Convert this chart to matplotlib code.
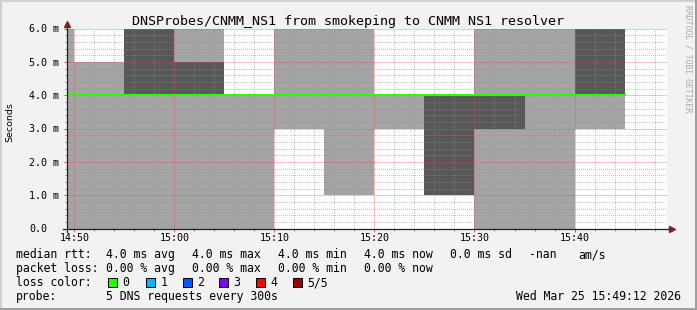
import matplotlib
matplotlib.use('Agg')
import matplotlib.pyplot as plt
from matplotlib.patches import Rectangle
from matplotlib.lines import Line2D

# ---- values ----
title = 'DNSProbes/CNMM_NS1 from smokeping to CNMM NS1 resolver'
step_times = ['14:45', '14:50', '14:55', '15:00', '15:05', '15:10',
              '15:15', '15:20', '15:25', '15:30', '15:35', '15:40']
# 5 sorted dns rtts per step (ms)
pings = [[0, 4, 4, 4, 6],
         [0, 4, 4, 4, 5],
         [0, 4, 4, 6, 6],
         [0, 4, 4, 5, 6],
         [0, 4, 4, 4, 4],
         [3, 4, 4, 4, 6],
         [1, 4, 4, 4, 6],
         [3, 4, 4, 4, 4],
         [1, 1, 4, 4, 4],
         [0, 3, 4, 4, 6],
         [0, 4, 4, 4, 6],
         [3, 4, 4, 6, 6]]
step_min = 5
view_start = '14:49:12'
view_end = '15:49:12'
x_ticks = ['14:50', '15:00', '15:10', '15:20', '15:30', '15:40']
y_ticks = [0, 1, 2, 3, 4, 5, 6]
y_labels = ['0.0', '1.0 m', '2.0 m', '3.0 m', '4.0 m', '5.0 m', '6.0 m']

rtt_stats = [('avg', 4.0), ('max', 4.0), ('min', 4.0), ('now', 4.0)]
rtt_sd = 0.0
loss_stats = [('avg', 0.00), ('max', 0.00), ('min', 0.00), ('now', 0.00)]
loss_names = ['0', '1', '2', '3', '4', '5/5']
loss_colors = ['#26ff00', '#00b8ff', '#0059ff', '#7e00ff', '#ff0000', '#a10000']
probe_text = '5 DNS requests every 300s'
stamp = 'Wed Mar 25 15:49:12 2026'

W, H = 697, 310
MONO = 'DejaVu Sans Mono'
FS = 8.3


def to_min(s):
    parts = [int(p) for p in s.split(':')]
    m = (parts[0] - 14) * 60 + parts[1]
    if len(parts) > 2:
        m += parts[2] / 60.0
    return m


def fx(x):
    return x / W


def fy(y):
    return 1 - y / H


def legend_text(x, y, s):
    fig.text(fx(x), fy(y), s, ha='left', va='baseline', fontfamily=MONO, fontsize=FS)


fig = plt.figure(figsize=(W / 100, H / 100), dpi=100, facecolor='#f2f2f2')
ax = fig.add_axes([fx(66.5), fy(228.5), 600 / W, 200 / H])
ax.set_facecolor('white')

starts = [to_min(t) for t in step_times]
lo = [p[0] for p in pings]
hi = [p[4] for p in pings]
lo2 = [p[1] for p in pings]
hi2 = [p[3] for p in pings]
med = [p[2] for p in pings]

# smoke: outer pair light, inner pair dark
ax.bar(starts, [h - l for h, l in zip(hi, lo)], bottom=lo, width=step_min,
       align='edge', color='#a4a4a4', linewidth=0, zorder=1)
ax.bar(starts, [h - l for h, l in zip(hi2, lo2)], bottom=lo2, width=step_min,
       align='edge', color='#585858', linewidth=0, zorder=1)
# median line
ax.step(starts + [starts[-1] + step_min], med + [med[-1]], where='post',
        color='#26ff00', lw=1.5, zorder=3)

ax.set_xlim(to_min(view_start), to_min(view_end))
ax.set_ylim(0, 6)
ax.set_xticks([to_min(t) for t in x_ticks])
ax.set_xticklabels(x_ticks, fontfamily=MONO, fontsize=7.2)
ax.set_xticks([m for m in range(50, 110, 2) if m % 10], minor=True)
ax.set_yticks(y_ticks)
ax.set_yticklabels(y_labels, fontfamily=MONO, fontsize=7.2)
ax.set_yticks([i / 5 for i in range(31) if i % 5], minor=True)
plt.setp(ax.get_yticklabels(), ha='left')

ax.tick_params(axis='x', which='major', direction='out', length=2.2, width=0.72,
               color='#de4f4f', pad=1.2)
ax.tick_params(axis='x', which='minor', direction='out', length=1.5, width=0.72,
               color='#8f8f8f')
ax.tick_params(axis='y', which='major', direction='out', length=2.2, width=0.72,
               color='#de4f4f', pad=24.5)
ax.tick_params(axis='y', which='minor', direction='out', length=1.5, width=0.72,
               color='#8f8f8f')

ax.set_axisbelow(False)
ax.grid(which='minor', color='#8f8f8f', alpha=0.5, lw=0.72, ls=(0, (1, 2)),
        antialiased=False)
ax.grid(which='major', color='#de4f4f', alpha=0.65, lw=0.72, ls=(0, (1, 1)))
for s in ax.spines.values():
    s.set_visible(False)

# axes with arrows
ax.add_line(Line2D([-0.006, 1.008], [0, 0], transform=ax.transAxes,
                   color='#1f1f1f', lw=0.9, clip_on=False, zorder=4))
ax.add_line(Line2D([0, 0], [-0.015, 1.015], transform=ax.transAxes,
                   color='#1f1f1f', lw=0.9, clip_on=False, zorder=4))
ax.plot([1.009], [0], marker='>', ms=4, color='#801f1f', transform=ax.transAxes,
        clip_on=False, zorder=5)
ax.plot([0], [1.022], marker='^', ms=4, color='#801f1f', transform=ax.transAxes,
        clip_on=False, zorder=5)

# texts
fig.text(fx(348), fy(24.5), title, ha='center', va='baseline', fontfamily=MONO,
         fontsize=9.6)
fig.text(fx(9.5), fy(122), 'Seconds', rotation=90, ha='center', va='center',
         fontsize=6.8)
fig.text(fx(688), fy(5), 'RRDTOOL / TOBI OETIKER', rotation=270, ha='center',
         va='top', fontfamily=MONO, fontsize=5.9, color='#aaaaaa')

# legend, each item placed where rrdtool put it
col_x = [106.5, 192.5, 278.5, 364.5]
legend_text(16, 258, 'median rtt:')
for cx, (k, v) in zip(col_x, rtt_stats):
    legend_text(cx, 258, '%.1f ms %s' % (v, k))
legend_text(450.5, 258, '%.1f ms sd' % rtt_sd)
legend_text(529, 258, '-nan')
legend_text(578.5, 258, 'am/s')

legend_text(16, 272, 'packet loss:')
for cx, (k, v) in zip(col_x, loss_stats):
    legend_text(cx, 272, '%.2f %% %s' % (v, k))

legend_text(16, 286, 'loss color:')
box_x = [108, 146, 183, 219, 256, 293]
for bx, name, col in zip(box_x, loss_names, loss_colors):
    fig.add_artist(Rectangle((fx(bx), fy(287)), 9 / W, 9 / H, transform=fig.transFigure,
                             facecolor=col, edgecolor='black', lw=0.72))
    legend_text(bx + 14.5, 286, name)

legend_text(16, 300, 'probe:')
legend_text(106.5, 300, probe_text)
fig.text(fx(681), fy(300), stamp, ha='right', va='baseline', fontfamily=MONO,
         fontsize=FS)

# 3d frame around the image
for (x0, y0, w, h, c) in [(0, 0, 2, H, '#cfcfcf'), (0, 0, W, 2, '#cfcfcf'),
                          (0, H - 2, W, 2, '#9e9e9e'), (W - 2, 0, 2, H, '#9e9e9e')]:
    fig.add_artist(Rectangle((fx(x0), fy(y0 + h)), w / W, h / H,
                             transform=fig.transFigure, facecolor=c, lw=0))

fig.savefig('out.png', dpi=100, facecolor=fig.get_facecolor())
